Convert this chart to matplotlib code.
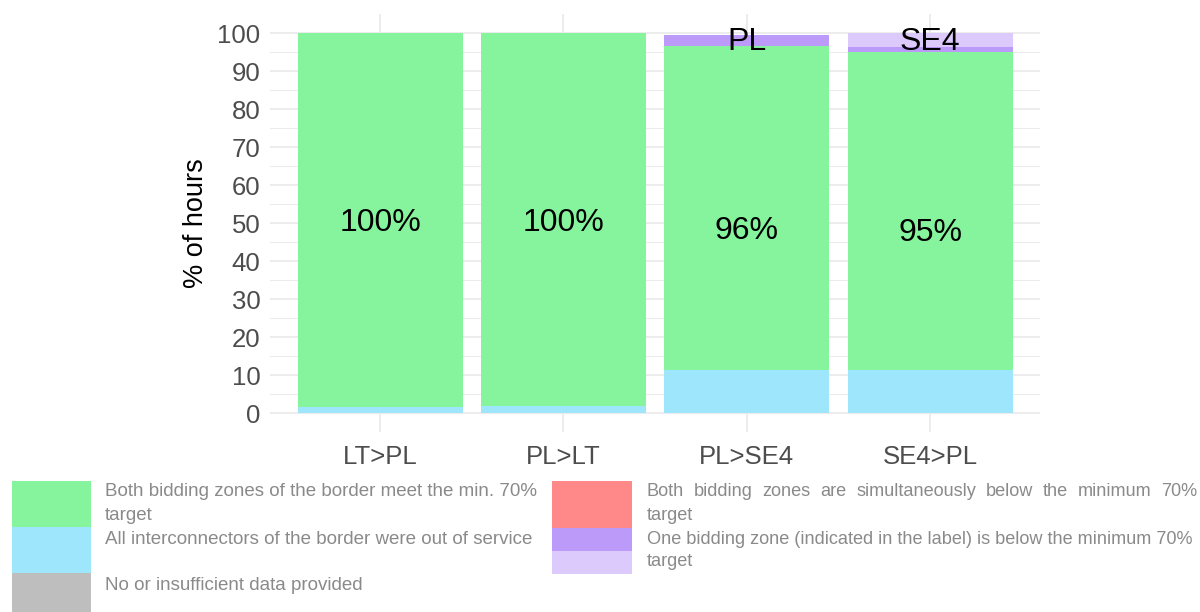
import matplotlib.pyplot as plt
from matplotlib.patches import Rectangle
import numpy as np

plt.rcParams['font.family'] = ['Liberation Sans', 'DejaVu Sans']

# % of hours per border direction
categories = ["LT>PL", "PL>LT", "PL>SE4", "SE4>PL"]
out_of_service = [1.7, 1.8, 11.3, 11.3]
both_meet = [98.3, 98.2, 85.3, 83.7]
one_below_dark = [0.0, 0.0, 2.9, 1.3]
one_below_light = [0.0, 0.0, 0.0, 3.7]
share_labels = [100, 100, 96, 95]
zone_labels = ["", "", "PL", "SE4"]

c_green = "#85F49D"
c_blue = "#9DE6FC"
c_grey = "#BEBEBE"
c_red = "#FF8888"
c_purple = "#BC9AFA"
c_lilac = "#DCCAFC"
grid_c = "#EBEBEB"

fig = plt.figure(figsize=(12, 6.12), dpi=100)
ax = fig.add_axes([0.225, 0.294, 0.6417, 0.683])

x = np.arange(1, len(categories) + 1)
w = 0.9
bottom = np.zeros(len(categories))
for vals, col in [(out_of_service, c_blue), (both_meet, c_green),
                  (one_below_dark, c_purple), (one_below_light, c_lilac)]:
    ax.bar(x, vals, w, bottom=bottom, color=col, linewidth=0, zorder=2)
    bottom += np.array(vals)

for xi, p in zip(x, share_labels):
    ax.text(xi, p / 2, f"{p}%", ha="center", va="center", fontsize=23, color="black", zorder=3)
for xi, z in zip(x, zone_labels):
    if z:
        ax.text(xi, 97.7, z, ha="center", va="center", fontsize=23, color="black", zorder=3)

ax.set_xlim(0.4, 4.6)
ax.set_ylim(-5, 105)
ax.set_yticks(np.arange(0, 101, 10))
ax.set_yticks(np.arange(5, 101, 10), minor=True)
ax.set_xticks(x)
ax.set_xticklabels(categories)
ax.grid(which="major", color=grid_c, linewidth=1.3, zorder=0)
ax.grid(which="minor", axis="y", color=grid_c, linewidth=0.7, zorder=0)
ax.tick_params(which="both", length=0, labelsize=18.5, labelcolor="#4D4D4D")
ax.tick_params(axis="y", pad=7)
ax.tick_params(axis="x", pad=9)
for s in ax.spines.values():
    s.set_visible(False)
ax.set_ylabel("% of hours", fontsize=19.5, color="black", labelpad=6)

# legend built by hand, two columns
W, H = 1200.0, 612.0
def key(x0, y0, x1, y1, col):
    fig.patches.append(Rectangle((x0 / W, 1 - y1 / H), (x1 - x0) / W, (y1 - y0) / H,
                                 transform=fig.transFigure, color=col, linewidth=0))

def ltxt(x0, y0, s, size=13.5):
    return fig.text(x0 / W, 1 - y0 / H, s, ha="left", va="center", fontsize=size, color="#8A8A8A")

def justified(x0, x1, y0, s, size):
    # spread words so the line fills x0..x1
    words = s.split()
    r = fig.canvas.get_renderer()
    arts = [ltxt(x0, y0, wd, size) for wd in words]
    widths = [a.get_window_extent(r).width for a in arts]
    gap = (x1 - x0 - sum(widths)) / (len(words) - 1)
    pos = x0
    for a, wd in zip(arts, widths):
        a.set_x(pos / W)
        pos += wd + gap

key(12, 481, 91, 527, c_green)
key(12, 527, 91, 573, c_blue)
key(12, 573, 91, 612, c_grey)
ltxt(105, 492, "Both bidding zones of the border meet the min. 70%")
ltxt(105, 515, "target")
ltxt(105, 540, "All interconnectors of the border were out of service")
ltxt(105, 585, "No or insufficient data provided")

key(552, 481, 632, 528, c_red)
key(552, 528, 632, 551, c_purple)
key(552, 551, 632, 574, c_lilac)
justified(647, 1197, 492, "Both bidding zones are simultaneously below the minimum 70%", 13.1)
ltxt(647, 515, "target", 13.1)
ltxt(647, 539, "One bidding zone (indicated in the label) is below the minimum 70%", 13.1)
ltxt(647, 562, "target", 13.1)

fig.savefig("out.png", dpi=100)
